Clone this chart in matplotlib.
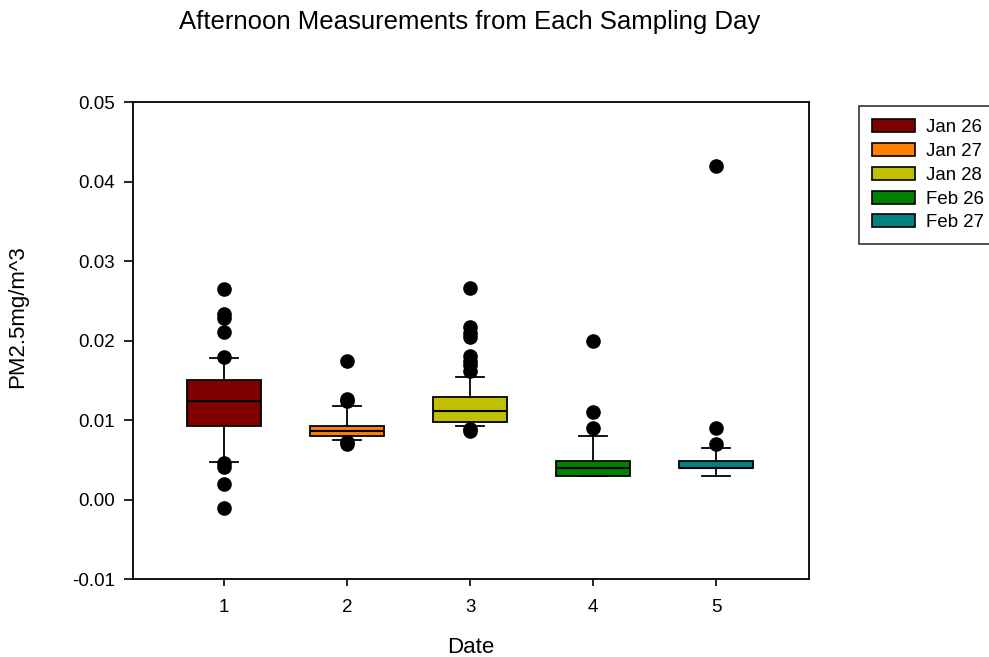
import matplotlib
matplotlib.use("Agg")
import matplotlib.pyplot as plt
from matplotlib.patches import Patch

plt.rcParams['font.family'] = ['Liberation Sans', 'DejaVu Sans']

labels = ["Jan 26", "Jan 27", "Jan 28", "Feb 26", "Feb 27"]
positions = [1, 2, 3, 4, 5]
colors = ["#800000", "#FF8000", "#C0C000", "#008000", "#008080"]

q1 = [0.0093, 0.0080, 0.0098, 0.0030, 0.0040]
med = [0.0124, 0.0086, 0.0112, 0.0040, 0.0040]
q3 = [0.0151, 0.0093, 0.0129, 0.0049, 0.0049]
whislo = [0.0048, 0.0075, 0.0093, 0.0030, 0.0030]
whishi = [0.0178, 0.0118, 0.0154, 0.0080, 0.0065]
fliers = [
    [0.0265, 0.0234, 0.0228, 0.0211, 0.0180, 0.0046, 0.0041, 0.0020, -0.0010],
    [0.0174, 0.0127, 0.0124, 0.0072, 0.0070],
    [0.0266, 0.0217, 0.0210, 0.0204, 0.0181, 0.0175, 0.0169, 0.0162, 0.0089, 0.0086],
    [0.0200, 0.0110, 0.0090],
    [0.0420, 0.0090, 0.0070],
]

fig = plt.figure(figsize=(9.89, 6.57), dpi=100)
ax = fig.add_axes([0.1342, 0.1183, 0.818 - 0.1342, 0.8447 - 0.1183])

stats = []
for i in range(len(labels)):
    stats.append(dict(med=med[i], q1=q1[i], q3=q3[i], whislo=whislo[i],
                      whishi=whishi[i], fliers=fliers[i], label=str(positions[i])))

bp = ax.bxp(stats, positions=positions, widths=0.6, capwidths=0.23,
            patch_artist=True, showfliers=True,
            boxprops=dict(edgecolor='black', linewidth=1.3),
            medianprops=dict(color='black', linewidth=1.5),
            whiskerprops=dict(color='black', linewidth=1.3),
            capprops=dict(color='black', linewidth=1.3),
            flierprops=dict(marker='o', markerfacecolor='black',
                            markeredgecolor='black', markersize=9.5))
for patch, c in zip(bp['boxes'], colors):
    patch.set_facecolor(c)

ax.set_xlim(0.257, 5.754)
ax.set_ylim(-0.01, 0.05)
ax.set_yticks([-0.01, 0.0, 0.01, 0.02, 0.03, 0.04, 0.05])
ax.set_yticklabels(["-0.01", "0.00", "0.01", "0.02", "0.03", "0.04", "0.05"])
ax.set_xticks(positions)
ax.set_xticklabels([str(p) for p in positions])
ax.tick_params(direction='out', width=1.2, labelsize=13.5)
ax.tick_params(axis='x', length=5, pad=9)
ax.tick_params(axis='y', length=6.5, pad=6)
for s in ax.spines.values():
    s.set_linewidth(1.3)

ax.set_xlabel("Date", fontsize=16, labelpad=15)
ax.set_ylabel("PM2.5mg/m^3", fontsize=16)
ax.yaxis.set_label_coords(-0.155, 0.55)
fig.text(0.475, 0.966, "Afternoon Measurements from Each Sampling Day",
         ha='center', va='center', fontsize=18.5)

handles = [Patch(facecolor=c, edgecolor='black', linewidth=1.2, label=l)
           for c, l in zip(colors, labels)]
leg = fig.legend(handles=handles, loc='upper left', bbox_to_anchor=(0.8686, 0.838),
                 frameon=True, fancybox=False, edgecolor='black', fontsize=13.4,
                 handlelength=2.3, handleheight=0.7, handletextpad=0.6,
                 labelspacing=0.36, borderpad=0.7, borderaxespad=0)
leg.get_frame().set_linewidth(1.2)

fig.savefig("out.png", dpi=100)
